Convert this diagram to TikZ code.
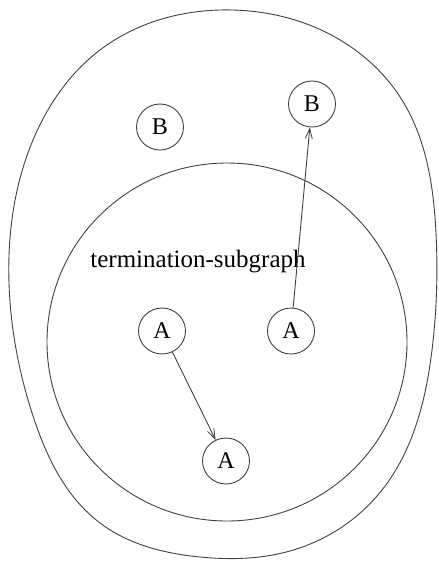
\documentclass[tikz,border=0pt]{standalone}
\usepackage{fontspec}
\setmainfont{Liberation Serif}
\usetikzlibrary{arrows.meta,shapes.geometric,hobby}
\begin{document}
\begin{tikzpicture}[x=1pt,y=-1pt,
  ln/.style={line width=0.9pt,draw=black!75},
  vert/.style={ellipse,ln,minimum width=47pt,minimum height=46pt,inner sep=0pt,font=\fontsize{24}{24}\selectfont},
  edge/.style={ln,-{Straight Barb[length=10pt,width=7pt,line width=0.8pt]}}]
\useasboundingbox (0,0) rectangle (439,563);
% outer blob
\draw[ln,use Hobby shortcut,closed=true]
  (233,10) .. (319,29) .. (402,100) .. (436,233) .. (432,350) .. (382,490)
  .. (290,551) .. (200,557) .. (100,523) .. (33,416) .. (9,283) .. (33,140) .. (100,50);
% inner circle
\draw[ln] (227,342) ellipse[x radius=180,y radius=179];
\node[font=\fontsize{25}{25}\selectfont] (lbl) at (198,262) {termination-subgraph};
\node[vert] (b1) at (160,127) {B};
\node[vert] (b2) at (312,104) {B};
\node[vert] (a1) at (162,331) {A};
\node[vert] (a2) at (291,331) {A};
\node[vert] (a3) at (226,461) {A};
\draw[edge] (a1) -- (a3);
\draw[edge] (a2) -- (b2);
\end{tikzpicture}
\end{document}
